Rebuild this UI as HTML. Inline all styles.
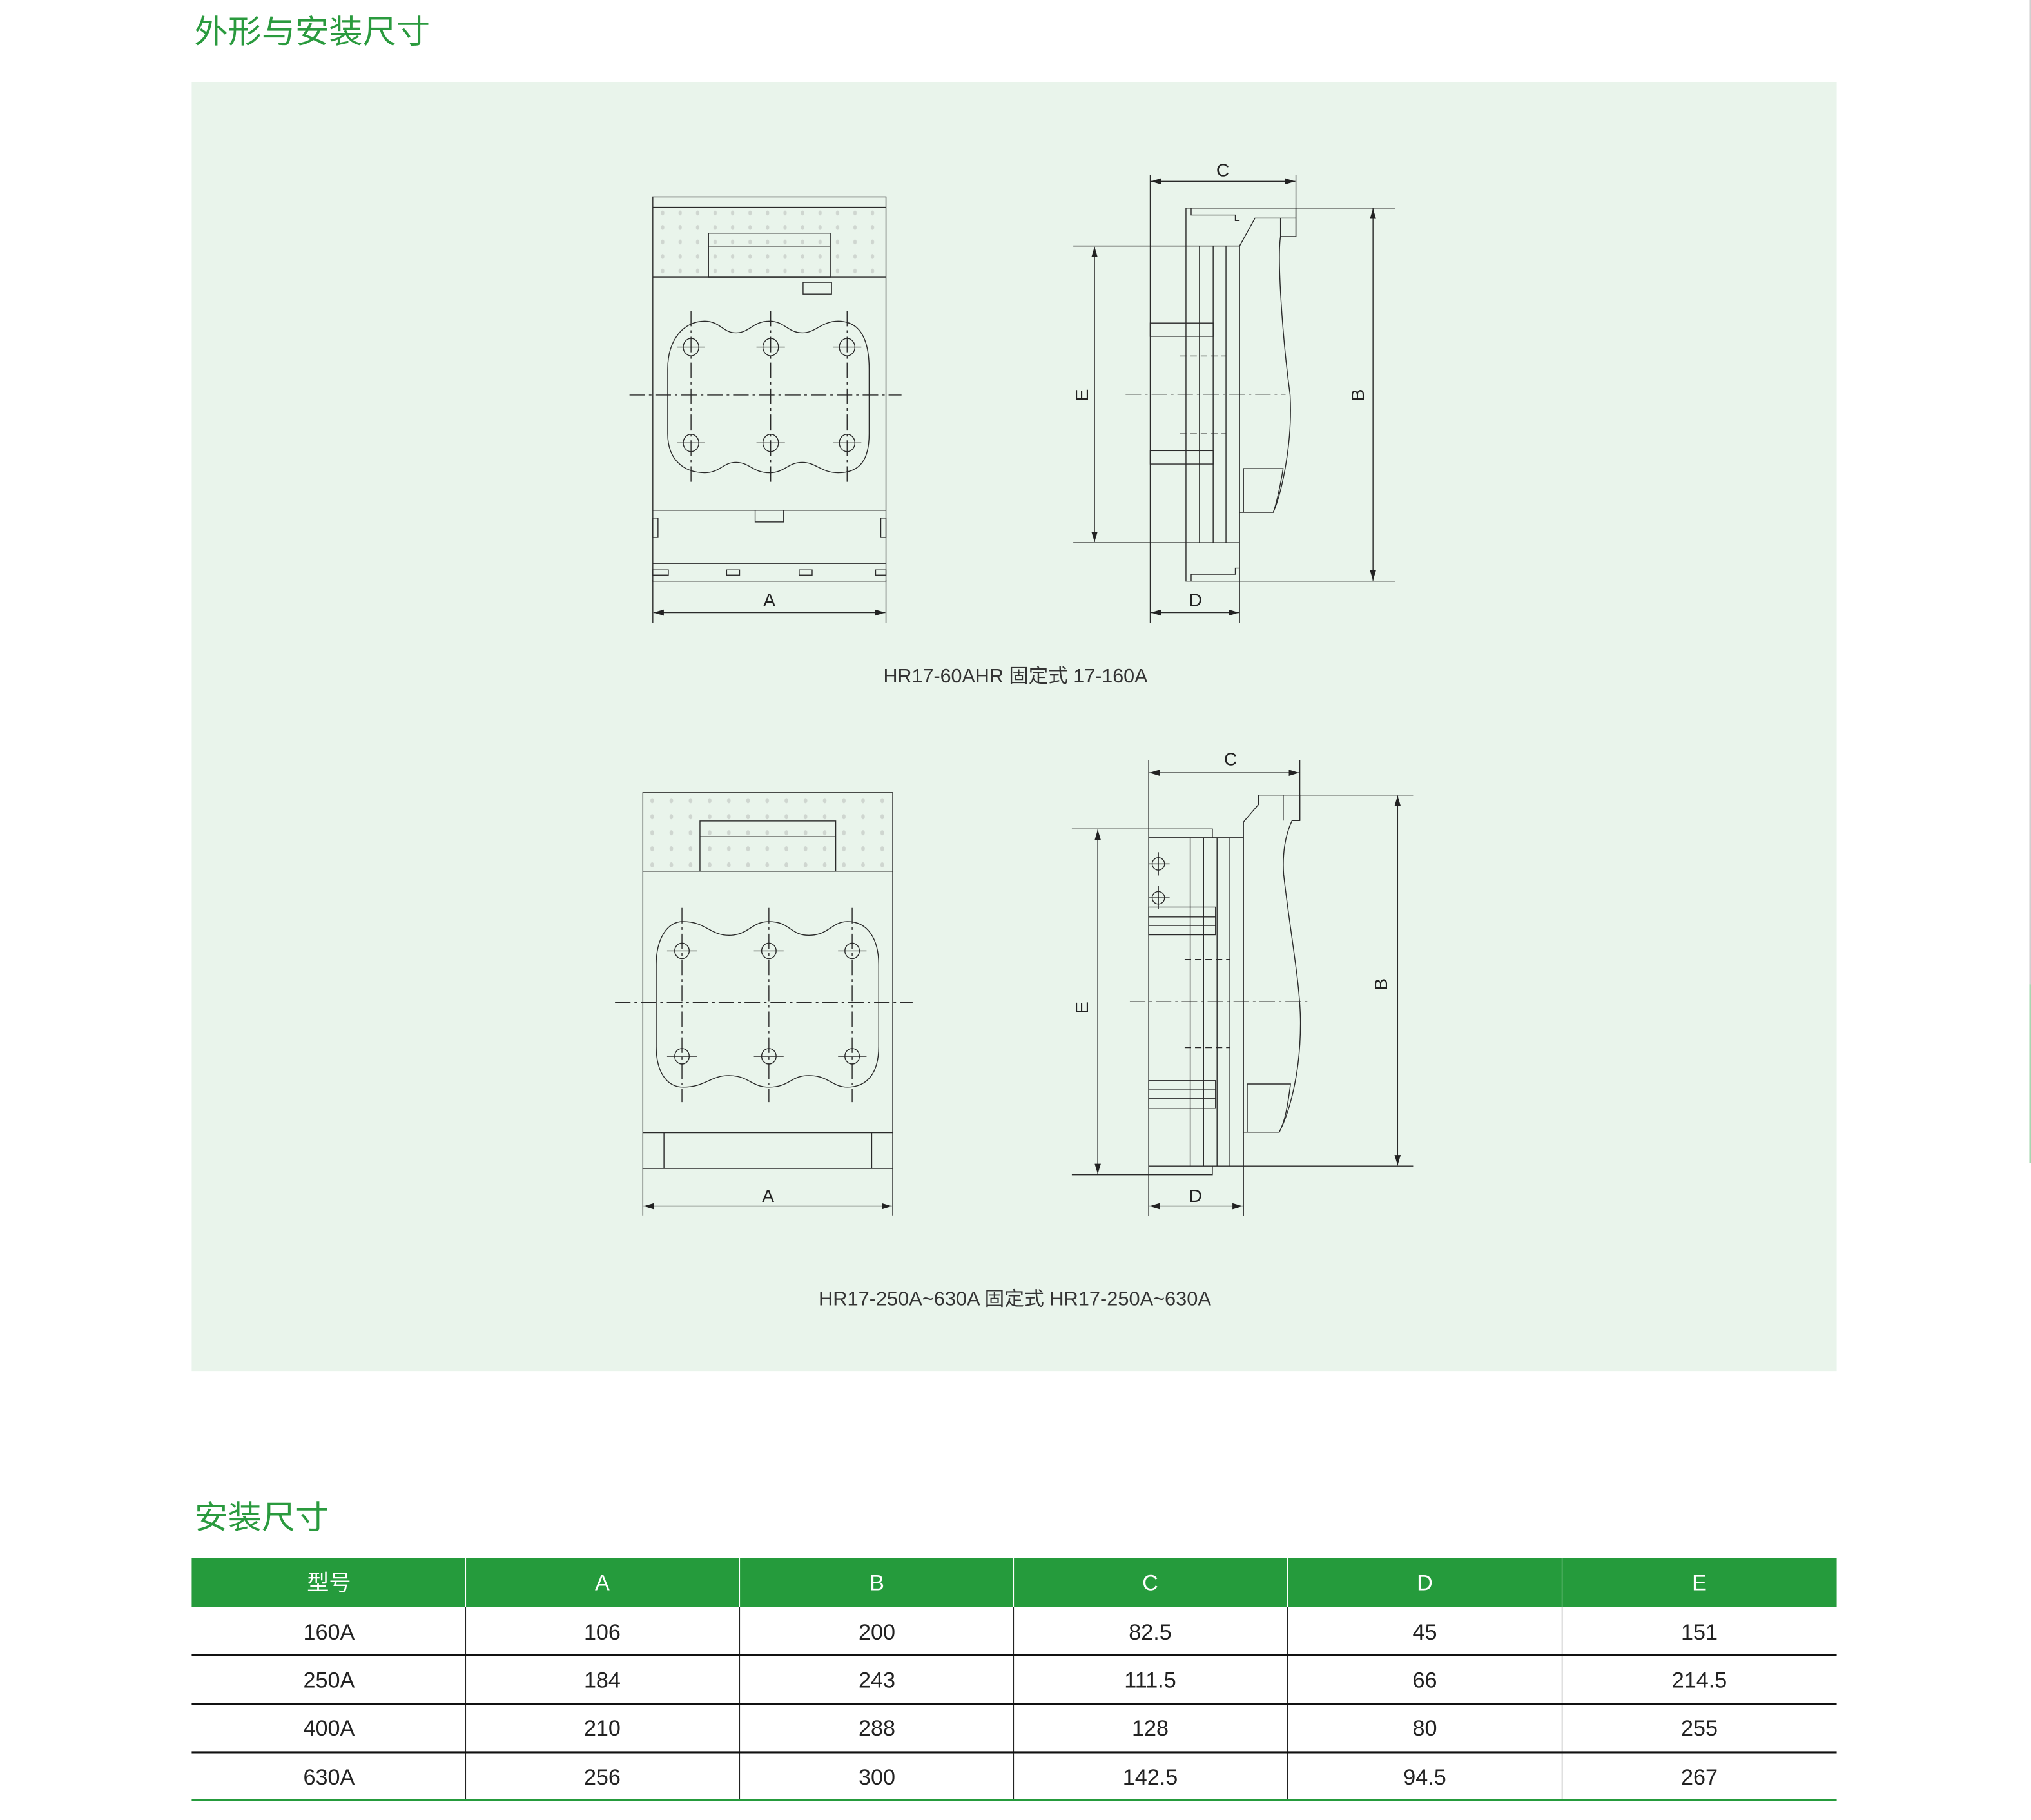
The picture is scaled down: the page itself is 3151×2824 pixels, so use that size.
<!DOCTYPE html>
<html><head><meta charset="utf-8"><style>
html,body{margin:0;padding:0;background:#fff;}
svg{display:block;}
</style></head><body>
<svg width="3151" height="2824" viewBox="0 0 1568 1405.27" xmlns="http://www.w3.org/2000/svg">
<defs>
<marker id="ar" viewBox="0 0 10 6" refX="10" refY="3" markerWidth="8" markerHeight="4.8" orient="auto-start-reverse" markerUnits="userSpaceOnUse"><path d="M0,0 L10,3 L0,6 z" fill="#222"/></marker>
<pattern id="d1" patternUnits="userSpaceOnUse" x="504.85" y="158.8" width="13.5" height="11.2"><ellipse cx="6.75" cy="5.6" rx="1.3" ry="1.9" fill="#cfd6d0"/></pattern>
<pattern id="d2" patternUnits="userSpaceOnUse" x="496.1" y="612" width="14.8" height="12.4"><ellipse cx="7.4" cy="6.2" rx="1.4" ry="2" fill="#cfd6d0"/></pattern>
</defs>
<rect width="1568" height="1405.27" fill="#fff"/>
<line x1="1567.3" y1="0" x2="1567.3" y2="760" stroke="#888" stroke-width="0.8"/>
<line x1="1567.3" y1="760" x2="1567.3" y2="898" stroke="#1e9b3a" stroke-width="0.8"/>
<text x="150" y="33" font-family="'Liberation Sans','Noto Sans CJK SC',sans-serif" font-size="25" fill="#2a9a3e" textLength="182" lengthAdjust="spacingAndGlyphs">外形与安装尺寸</text>
<rect x="148" y="63.5" width="1270" height="995.5" fill="#e9f4eb"/>

<g fill="none" stroke="#2a2a2a" stroke-width="0.7">
<!-- Drawing 1 front -->
<rect x="504" y="160" width="180" height="54" fill="url(#d1)" stroke="none"/>
<rect x="504" y="152" width="180" height="296.7"/>
<line x1="504" y1="160" x2="684" y2="160"/>
<line x1="504" y1="214" x2="684" y2="214"/>
<rect x="547" y="180" width="94" height="34"/>
<line x1="547" y1="190" x2="641" y2="190"/>
<rect x="620" y="218" width="22" height="9"/>
<path d="M515.5,285 C515.5,262 528,248 544,248 C556,248 558,257 568,257 C579,257 581,248 594,248 C606,248 608,257 619.5,257 C630,257 634,248 647,248 C664,248 671,262 671,285 L671,335 C671,355 664,365 647,365 C634,365 630,357 619.5,357 C608,357 606,365 594,365 C581,365 579,357 568,357 C558,357 556,365 544,365 C528,365 515.5,355 515.5,335 Z"/>
<g stroke-dasharray="12,3,2,3">
<line x1="533.5" y1="240" x2="533.5" y2="372"/>
<line x1="595" y1="240" x2="595" y2="372"/>
<line x1="654" y1="240" x2="654" y2="372"/>
<line x1="486" y1="305" x2="696" y2="305"/>
</g>
<g>
<ellipse cx="533.5" cy="268" rx="6" ry="6.7"/><line x1="523" y1="268" x2="544" y2="268"/>
<ellipse cx="595" cy="268" rx="6" ry="6.7"/><line x1="584" y1="268" x2="606" y2="268"/>
<ellipse cx="654" cy="268" rx="6" ry="6.7"/><line x1="643" y1="268" x2="665" y2="268"/>
<ellipse cx="533.5" cy="342" rx="6" ry="6.7"/><line x1="523" y1="342" x2="544" y2="342"/>
<ellipse cx="595" cy="342" rx="6" ry="6.7"/><line x1="584" y1="342" x2="606" y2="342"/>
<ellipse cx="654" cy="342" rx="6" ry="6.7"/><line x1="643" y1="342" x2="665" y2="342"/>
</g>
<line x1="504" y1="394" x2="684" y2="394"/>
<rect x="583" y="394" width="22" height="9"/>
<rect x="504" y="400" width="4" height="15"/>
<rect x="680" y="400" width="4" height="15"/>
<line x1="504" y1="435" x2="684" y2="435"/>
<rect x="504" y="440" width="12" height="4"/>
<rect x="561" y="440" width="10" height="4"/>
<rect x="617" y="440" width="10" height="4"/>
<rect x="676" y="440" width="8" height="4"/>
<line x1="504" y1="448" x2="504" y2="481"/>
<line x1="684" y1="448" x2="684" y2="481"/>
<line x1="504.5" y1="473" x2="683.5" y2="473" marker-start="url(#ar)" marker-end="url(#ar)"/>

<!-- Drawing 1 side -->
<line x1="888" y1="135" x2="888" y2="481"/>
<line x1="1000.5" y1="135" x2="1000.5" y2="183"/>
<line x1="888.5" y1="140" x2="1000" y2="140" marker-start="url(#ar)" marker-end="url(#ar)"/>
<path d="M915.6,190 L915.6,160.6 L1077,160.6"/>
<path d="M919.6,160.6 L919.6,166 L953.7,166 L953.7,170.3 L957,170.3"/>
<path d="M1000.5,160.6 L1000.5,182.6 L988.6,182.6 C986,200 990,260 996,305 C998,340 990,380 983,395.6 L957,395.6"/>
<path d="M957,189.9 L968.9,168.4 L1000.5,168.4"/>
<line x1="988.6" y1="168.4" x2="988.6" y2="182.6"/>
<g>
<line x1="915.6" y1="189.9" x2="915.6" y2="419"/>
<line x1="926" y1="189.9" x2="926" y2="419"/>
<line x1="936.6" y1="189.9" x2="936.6" y2="419"/>
<line x1="946.5" y1="189.9" x2="946.5" y2="419"/>
<line x1="957" y1="189.9" x2="957" y2="481"/>
</g>
<line x1="828.6" y1="189.9" x2="957" y2="189.9"/>
<line x1="828.6" y1="419" x2="957" y2="419"/>
<rect x="888" y="249.4" width="48.6" height="10.3"/>
<rect x="888" y="348" width="48.6" height="10.3"/>
<g stroke-dasharray="5,3">
<line x1="911" y1="274.9" x2="946.5" y2="274.9"/>
<line x1="911" y1="335" x2="946.5" y2="335"/>
</g>
<line x1="869" y1="304.4" x2="992.5" y2="304.4" stroke-dasharray="12,3,2,3"/>
<path d="M960,395.6 L960,361.8 L990.6,361.8 C988,378 985,390 983,395.6"/>
<path d="M915.6,419 L915.6,448.7 L1077,448.7"/>
<path d="M919.6,448.7 L919.6,443.4 L953.7,443.4 L953.7,438.7 L957,438.7"/>
<line x1="845" y1="190.5" x2="845" y2="418.5" marker-start="url(#ar)" marker-end="url(#ar)"/>
<line x1="1060" y1="161" x2="1060" y2="448.2" marker-start="url(#ar)" marker-end="url(#ar)"/>
<line x1="888.5" y1="473" x2="956.5" y2="473" marker-start="url(#ar)" marker-end="url(#ar)"/>

<!-- Drawing 2 front -->
<rect x="496.3" y="612" width="192.9" height="60.7" fill="url(#d2)" stroke="none"/>
<rect x="496.3" y="612" width="192.9" height="290.2"/>
<line x1="496.3" y1="672.7" x2="689.2" y2="672.7"/>
<rect x="540.4" y="633.9" width="104.8" height="38.8"/>
<line x1="540.4" y1="646" x2="645.2" y2="646"/>
<path d="M506.6,745 C506.6,725 515,711.6 527.3,711.6 C545,711.6 548,722.2 562.8,722.2 C578,722.2 580,711.6 593.6,711.6 C610,711.6 610,722.2 624.5,722.2 C640,722.2 642,711.6 654.3,711.6 C670,711.6 678.4,725 678.4,745 L678.4,808 C678.4,828 670,839.4 654.3,839.4 C642,839.4 640,830.5 624.5,830.5 C610,830.5 610,839.4 593.6,839.4 C580,839.4 578,830.5 562.8,830.5 C548,830.5 545,839.4 527.3,839.4 C515,839.4 506.6,828 506.6,808 Z"/>
<g stroke-dasharray="12,3,2,3">
<line x1="526.5" y1="701" x2="526.5" y2="851"/>
<line x1="593.6" y1="701" x2="593.6" y2="851"/>
<line x1="657.9" y1="701" x2="657.9" y2="851"/>
<line x1="474.8" y1="774.1" x2="704.6" y2="774.1"/>
</g>
<g>
<ellipse cx="526.5" cy="734.2" rx="5.6" ry="6"/><line x1="515" y1="734.2" x2="538" y2="734.2"/>
<ellipse cx="593.6" cy="734.2" rx="5.6" ry="6"/><line x1="582" y1="734.2" x2="605" y2="734.2"/>
<ellipse cx="657.9" cy="734.2" rx="5.6" ry="6"/><line x1="647" y1="734.2" x2="669" y2="734.2"/>
<ellipse cx="526.5" cy="815.6" rx="5.6" ry="6"/><line x1="515" y1="815.6" x2="538" y2="815.6"/>
<ellipse cx="593.6" cy="815.6" rx="5.6" ry="6"/><line x1="582" y1="815.6" x2="605" y2="815.6"/>
<ellipse cx="657.9" cy="815.6" rx="5.6" ry="6"/><line x1="647" y1="815.6" x2="669" y2="815.6"/>
</g>
<line x1="496.3" y1="874.6" x2="689.2" y2="874.6"/>
<line x1="512.6" y1="874.6" x2="512.6" y2="902.2"/>
<line x1="673" y1="874.6" x2="673" y2="902.2"/>
<line x1="496.3" y1="902.2" x2="496.3" y2="938.9"/>
<line x1="689.2" y1="902.2" x2="689.2" y2="938.9"/>
<line x1="496.8" y1="931.3" x2="688.7" y2="931.3" marker-start="url(#ar)" marker-end="url(#ar)"/>

<!-- Drawing 2 side -->
<line x1="886.8" y1="587" x2="886.8" y2="939"/>
<line x1="1003.5" y1="587" x2="1003.5" y2="633.6"/>
<line x1="887.3" y1="596.7" x2="1003" y2="596.7" marker-start="url(#ar)" marker-end="url(#ar)"/>
<path d="M1091,613.9 L971.7,613.9 L971.7,621 L960,634.7 L960,939"/>
<path d="M1003.5,613.9 L1003.5,633.6 L997.5,633.6 C992,645 990,660 991,675 C996,720 1004,760 1004,790 C1004,830 995,860 987.6,874.2 L960,874.2"/>
<line x1="990.7" y1="613.9" x2="990.7" y2="633.6"/>
<g>
<line x1="918.9" y1="646.8" x2="918.9" y2="900.3"/>
<line x1="929.2" y1="646.8" x2="929.2" y2="900.3"/>
<line x1="939.6" y1="646.8" x2="939.6" y2="900.3"/>
<line x1="949.5" y1="646.8" x2="949.5" y2="900.3"/>
</g>
<line x1="886.8" y1="646.8" x2="960" y2="646.8"/>
<path d="M827.5,640.1 L936,640.1 L936,646.8"/>
<line x1="886.8" y1="900.3" x2="1091" y2="900.3"/>
<path d="M827.5,907 L936,907 L936,900.3"/>
<g>
<circle cx="894.3" cy="667" r="4.8"/><line x1="887" y1="667" x2="903" y2="667"/><line x1="894.3" y1="658" x2="894.3" y2="676"/>
<circle cx="894.3" cy="693.2" r="4.8"/><line x1="887" y1="693.2" x2="903" y2="693.2"/><line x1="894.3" y1="684" x2="894.3" y2="702"/>
</g>
<rect x="886.8" y="700.4" width="51.6" height="21.4"/>
<line x1="886.8" y1="708" x2="938.4" y2="708"/>
<line x1="886.8" y1="714.6" x2="938.4" y2="714.6"/>
<rect x="886.8" y="834.4" width="51.6" height="21.4"/>
<line x1="886.8" y1="841.5" x2="938.4" y2="841.5"/>
<line x1="886.8" y1="848" x2="938.4" y2="848"/>
<g stroke-dasharray="5,3">
<line x1="914.6" y1="740.8" x2="949.5" y2="740.8"/>
<line x1="914.6" y1="808.9" x2="949.5" y2="808.9"/>
</g>
<line x1="872.3" y1="773.4" x2="1009.4" y2="773.4" stroke-dasharray="12,3,2,3"/>
<path d="M962.9,874.2 L962.9,837 L996.3,837 C994,855 992,866 987.6,874.2"/>
<line x1="847.5" y1="640.6" x2="847.5" y2="906.5" marker-start="url(#ar)" marker-end="url(#ar)"/>
<line x1="1079" y1="614.4" x2="1079" y2="899.8" marker-start="url(#ar)" marker-end="url(#ar)"/>
<line x1="887.3" y1="931.3" x2="959.5" y2="931.3" marker-start="url(#ar)" marker-end="url(#ar)"/>
</g>

<g font-family="'Liberation Sans',sans-serif" font-size="14" fill="#222" text-anchor="middle">
<text x="594" y="468">A</text>
<text x="944" y="136">C</text>
<text x="923" y="468">D</text>
<text transform="translate(840,305) rotate(-90)">E</text>
<text transform="translate(1053,305) rotate(-90)">B</text>
<text x="593" y="928">A</text>
<text x="950" y="591">C</text>
<text x="923" y="928">D</text>
<text transform="translate(840,778) rotate(-90)">E</text>
<text transform="translate(1071,760) rotate(-90)">B</text>
</g>
<g font-family="'Liberation Sans','Noto Sans CJK SC',sans-serif" font-size="15" fill="#333">
<text x="682" y="527" textLength="204" lengthAdjust="spacingAndGlyphs">HR17-60AHR 固定式 17-160A</text>
<text x="632" y="1008" textLength="303" lengthAdjust="spacingAndGlyphs">HR17-250A~630A 固定式 HR17-250A~630A</text>
</g>

<text x="150" y="1180" font-family="'Liberation Sans','Noto Sans CJK SC',sans-serif" font-size="25" fill="#2a9a3e" textLength="104" lengthAdjust="spacingAndGlyphs">安装尺寸</text>

<!-- table -->
<rect x="148" y="1203" width="1270" height="38" fill="#259b3c"/>
<g stroke="#fff" stroke-width="0.6">
<line x1="359.5" y1="1203" x2="359.5" y2="1241"/><line x1="571" y1="1203" x2="571" y2="1241"/><line x1="782.5" y1="1203" x2="782.5" y2="1241"/><line x1="994" y1="1203" x2="994" y2="1241"/><line x1="1206" y1="1203" x2="1206" y2="1241"/>
</g>
<g stroke="#222" stroke-width="0.6">
<line x1="359.5" y1="1241" x2="359.5" y2="1390"/><line x1="571" y1="1241" x2="571" y2="1390"/><line x1="782.5" y1="1241" x2="782.5" y2="1390"/><line x1="994" y1="1241" x2="994" y2="1390"/><line x1="1206" y1="1241" x2="1206" y2="1390"/>
</g>
<g stroke="#111" stroke-width="1.6">
<line x1="148" y1="1278" x2="1418" y2="1278"/>
<line x1="148" y1="1315.5" x2="1418" y2="1315.5"/>
<line x1="148" y1="1353" x2="1418" y2="1353"/>
</g>
<line x1="148" y1="1390" x2="1418" y2="1390" stroke="#259b3c" stroke-width="1.6"/>
<g font-family="'Liberation Sans Narrow','Liberation Sans','Noto Sans CJK SC',sans-serif" font-size="17" text-anchor="middle">
<g fill="#fff">
<text x="254" y="1228">型号</text><text x="465" y="1228">A</text><text x="677" y="1228">B</text><text x="888" y="1228">C</text><text x="1100" y="1228">D</text><text x="1312" y="1228">E</text>
</g>
<g fill="#222">
<text x="254" y="1266">160A</text><text x="465" y="1266">106</text><text x="677" y="1266">200</text><text x="888" y="1266">82.5</text><text x="1100" y="1266">45</text><text x="1312" y="1266">151</text>
<text x="254" y="1303">250A</text><text x="465" y="1303">184</text><text x="677" y="1303">243</text><text x="888" y="1303">111.5</text><text x="1100" y="1303">66</text><text x="1312" y="1303">214.5</text>
<text x="254" y="1340">400A</text><text x="465" y="1340">210</text><text x="677" y="1340">288</text><text x="888" y="1340">128</text><text x="1100" y="1340">80</text><text x="1312" y="1340">255</text>
<text x="254" y="1378">630A</text><text x="465" y="1378">256</text><text x="677" y="1378">300</text><text x="888" y="1378">142.5</text><text x="1100" y="1378">94.5</text><text x="1312" y="1378">267</text>
</g>
</g>
</svg>
</body></html>
